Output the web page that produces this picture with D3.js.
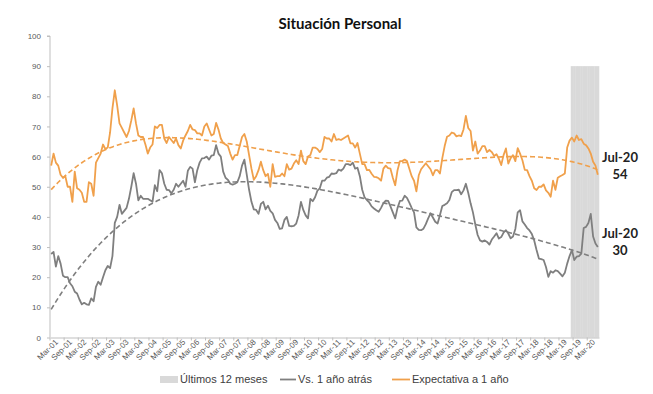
<!DOCTYPE html>
<meta charset="utf-8">
<style>
  body { margin: 0; background: #fff; }
  .axis text { font-family: "Liberation Sans", Arial, sans-serif; font-size: 8px; fill: #595959; }
  .axis path, .axis line { stroke: #bfbfbf; }
  .legend text { font-family: "Liberation Sans", Arial, sans-serif; font-size: 11px; fill: #404040; }
  .note { font-family: Lato, "Open Sans", sans-serif; font-weight: bold; font-size: 13px; fill: #222; }
</style>
<svg width="653" height="394"></svg>
<script src="https://d3js.org/d3.v7.min.js"></script>
<script>

  // categorias: meses desde Mar-01 hasta Jul-20
  var abrev = ["Jan","Feb","Mar","Apr","May","Jun","Jul","Aug","Sep","Oct","Nov","Dec"];
  var meses = [];
  for (var a = 2001, m = 2; a < 2020 || m <= 6; ) {
    meses.push(abrev[m] + "-" + String(a % 100).padStart(2, "0"));
    m++; if (m == 12) { m = 0; a++; }
  }

  // Vs. 1 año atrás
  var vsAnio = [27.7,28.4,23.5,27,24.5,20.5,20,20,18,17,15.2,14.6,12.6,11,11.5,11,10.8,13,12,16.8,18.5,17.5,20,22.3,
    23.7,23,27,38,40,44,41,42,43,46,50,54.5,51,45.5,47,46,46,46,45.5,45,50.5,48.5,55.5,54.5,
    51,49,48.9,47.8,49,51,50,51,52,50,55.3,56.6,56,51.5,55.5,58,59.4,59.5,60,59,60.3,60.5,63.8,61,60,55,53,52.3,
    51,50.7,51,51.5,53.5,57,59,54,49,45,42.5,42.3,41,44.3,45,42.5,43.7,42,41.2,39,38,36,36.2,39,40,37,36.9,37,37.8,40.5,
    45,42.3,40.5,39.5,46,45.2,46.5,48.7,49.5,52,52,53,53.3,54.4,54.3,54.5,55.7,55.3,56,57.5,57.5,57.2,58,56,56.3,53.5,
    49,46.5,45.6,44.8,43.5,42.8,42.2,41.7,43,44.6,45.4,45.3,43.5,41.5,39.5,43,45.3,45.4,47,46.3,44.7,43,41.5,36.5,
    35.7,35.6,36.1,37.6,39.5,41.2,39.8,38.4,37.8,
    40.6,43.6,44,44.5,45.6,48.2,48.9,48.9,49,47.5,48.8,51,48,44.5,41.5,37.5,34,32.2,31.8,32.2,31.7,30.8,32.5,33.5,
    34.6,32.8,33.3,34.8,35.6,34.5,32.9,33.5,36,41.5,42.2,38.5,37.5,36.3,35.5,34.3,32.2,29,26.2,26,25.7,23.4,20.1,22,
    21.5,22.3,22,21.2,20.3,21.5,24.5,27,29,25.7,26.8,27,27.8,36.3,36.7,38,41,33.5,31.2,30];

  // Expectativa a 1 año
  var expectativa = [57,61,58,57,54,53,53.5,50,50,45,55,49.5,49,48,45,45,51.5,51,47,58,59.5,61,64,62.5,
    63,68,76,82,77,71,69.5,68,66.5,68.5,72,76,71,67,66.5,66.5,64,61,63,64,70,69.5,70.5,70.5,
    66,64.5,66.5,65.5,64.5,66,63.8,62.7,65.3,67,68.5,70.5,69,68.8,67.7,67.7,67,70,71,69,67,67.5,71.2,69,66,64.5,
    64,63.5,61,59,60.5,60.5,63.5,66.5,67.5,65,60.5,56,52.3,53.5,55.5,58.3,55.5,53.5,54.3,50,57.5,53.3,53.5,53.5,
    54.4,53.5,57.5,55.7,56,57.7,58.8,57.5,
    62,58.5,57.5,60,60.5,63,63,62.5,61.5,62.5,66.5,66,66,65,67.5,65.5,65.8,65.5,66,66.5,67,64.4,64.4,63,64.5,61,
    57.5,57.5,55.5,55.6,54.3,53.3,53.2,52.8,52,56,57,56.2,56,53,50.5,55.5,58.5,58.5,59,58.5,56,53.5,52,48.5,53.8,
    55.8,56.8,57.8,56.8,55.8,53.8,55.5,55.5,
    54.4,59.5,63.5,66.6,67,68,67.7,66.7,67,66.8,69,73.5,69.5,68.5,62,65,61,62,63.5,63.5,61.5,62.2,61.5,60.2,60.8,
    59.3,57.2,60.5,62.7,57.7,59.5,60.5,58.5,62.8,61,58.8,55.6,55.5,53.5,52,49.5,48.9,50,50,50.8,48.8,48,46.7,52,49,
    53,53.5,53.9,54.4,63,65.3,66.3,65,67,65.5,65.8,64.3,63.8,62.7,61,58.3,57,54];

  // Últimos 12 meses (barra de fondo)
  var ultimosMeses = meses.slice(-12);
  var ultimosValor = 90;

  var yTicks = [0,10,20,30,40,50,60,70,80,90,100];
  var xEtiquetas = meses.filter(function(d) { return d.slice(0,3) == "Mar" || d.slice(0,3) == "Sep"; });

  var svg = d3.select("svg"),
    margin = {top: 36, right: 54, bottom: 57, left: 50},
    width = +svg.attr("width") - margin.left - margin.right,
    height = +svg.attr("height") - margin.top - margin.bottom;

  var x = d3.scaleBand().domain(meses).range([0, width]).padding(0),
    y = d3.scaleLinear().domain([0, 100]).range([height + 0.5, 0]);
  var bw = x.bandwidth();

  var g = svg.append("g")
    .attr("transform", "translate(" + margin.left + "," + margin.top + ")");

  // barra últimos 12 meses
  g.selectAll(".ult")
    .data(ultimosMeses)
    .enter().append("rect")
    .attr("x", function(d) { return x(d); })
    .attr("y", y(ultimosValor))
    .attr("width", bw + 0.3)
    .attr("height", y(0) - y(ultimosValor))
    .attr("fill", "#d9d9d9");

  // ejes
  g.append("g")
    .attr("class", "axis")
    .call(d3.axisLeft(y).tickValues(yTicks).tickSize(3).tickPadding(6))
    .call(function(s) { s.select(".domain").attr("d", "M-3," + y(100) + "H0V" + y(0)); });

  var xAxis = g.append("g")
    .attr("class", "axis")
    .attr("transform", "translate(0," + y(0) + ")")
    .call(d3.axisBottom(x).tickValues(xEtiquetas).tickSize(0).tickPadding(4));
  xAxis.selectAll("text")
    .attr("text-anchor", "end")
    .attr("dx", "0.2em")
    .attr("dy", "0.6em")
    .attr("transform", function() { return "rotate(-45)"; });
  // marcas entre categorías cada 6 meses
  xAxis.selectAll(".tickm")
    .data(xEtiquetas)
    .enter().append("line")
    .attr("x1", function(d) { return x(d); })
    .attr("x2", function(d) { return x(d); })
    .attr("y1", 0).attr("y2", 3)
    .attr("stroke", "#bfbfbf");

  // tendencias polinómicas
  function ajustePoli(vals, orden) {
    var n = vals.length, k = orden + 1;
    var A = [], b = [];
    for (var r = 0; r < k; r++) { A.push(new Array(k).fill(0)); b.push(0); }
    vals.forEach(function(v, i) {
      var t = i / (n - 1);
      for (var r = 0; r < k; r++) {
        b[r] += v * Math.pow(t, r);
        for (var c = 0; c < k; c++) A[r][c] += Math.pow(t, r + c);
      }
    });
    for (var p = 0; p < k; p++) {
      var mx = p;
      for (var r = p + 1; r < k; r++) if (Math.abs(A[r][p]) > Math.abs(A[mx][p])) mx = r;
      var tmp = A[p]; A[p] = A[mx]; A[mx] = tmp; var tb = b[p]; b[p] = b[mx]; b[mx] = tb;
      for (var r = p + 1; r < k; r++) {
        var f = A[r][p] / A[p][p];
        for (var c = p; c < k; c++) A[r][c] -= f * A[p][c];
        b[r] -= f * b[p];
      }
    }
    var coef = new Array(k).fill(0);
    for (var r = k - 1; r >= 0; r--) {
      var s = b[r];
      for (var c = r + 1; c < k; c++) s -= A[r][c] * coef[c];
      coef[r] = s / A[r][r];
    }
    return vals.map(function(v, i) {
      var t = i / (n - 1), s = 0;
      for (var r = 0; r < k; r++) s += coef[r] * Math.pow(t, r);
      return s;
    });
  }

  var linea = d3.line()
    .x(function(d, i) { return x(meses[i]) + bw / 2; })
    .y(function(d) { return y(d); });

  g.append("path").datum(ajustePoli(vsAnio, 4))
    .attr("fill", "none").attr("stroke", "#7f7f7f").attr("stroke-width", 1.6)
    .attr("stroke-dasharray", "5,3").attr("d", linea);
  g.append("path").datum(ajustePoli(expectativa, 4))
    .attr("fill", "none").attr("stroke", "#f0a04b").attr("stroke-width", 1.6)
    .attr("stroke-dasharray", "5,3").attr("d", linea);

  g.append("path").datum(vsAnio)
    .attr("fill", "none").attr("stroke", "#7f7f7f").attr("stroke-width", 1.8)
    .attr("stroke-linejoin", "round").attr("d", linea);
  g.append("path").datum(expectativa)
    .attr("fill", "none").attr("stroke", "#f0a04b").attr("stroke-width", 1.8)
    .attr("stroke-linejoin", "round").attr("d", linea);

  // etiquetas del último dato
  var ult = meses.length - 1;
  [[expectativa[ult], 162], [vsAnio[ult], 238]].forEach(function(p) {
    var t = svg.append("text").attr("class", "note").attr("text-anchor", "middle");
    t.append("tspan").attr("x", 620).attr("y", p[1]).text(meses[ult]);
    t.append("tspan").attr("x", 620).attr("y", p[1] + 17).text(Math.round(p[0]));
  });

  // título
  svg.append("text")
    .attr("x", 340).attr("y", 29)
    .attr("text-anchor", "middle")
    .style("font-family", "Lato, 'Open Sans', sans-serif")
    .style("font-weight", "bold")
    .style("font-size", "15px")
    .style("fill", "#111")
    .text("Situación Personal");

  // leyenda
  var leg = svg.append("g").attr("class", "legend").attr("transform", "translate(0,381)");
  leg.append("rect").attr("x", 160).attr("y", -5).attr("width", 18).attr("height", 7).attr("fill", "#d9d9d9");
  leg.append("text").attr("x", 180).attr("y", 2).text("Últimos 12 meses");
  leg.append("line").attr("x1", 280).attr("x2", 296).attr("y1", -1.5).attr("y2", -1.5)
    .attr("stroke", "#7f7f7f").attr("stroke-width", 1.8);
  leg.append("text").attr("x", 298).attr("y", 2).text("Vs. 1 año atrás");
  leg.append("line").attr("x1", 392).attr("x2", 410).attr("y1", -1.5).attr("y2", -1.5)
    .attr("stroke", "#f0a04b").attr("stroke-width", 1.8);
  leg.append("text").attr("x", 412).attr("y", 2).text("Expectativa a 1 año");

</script>
